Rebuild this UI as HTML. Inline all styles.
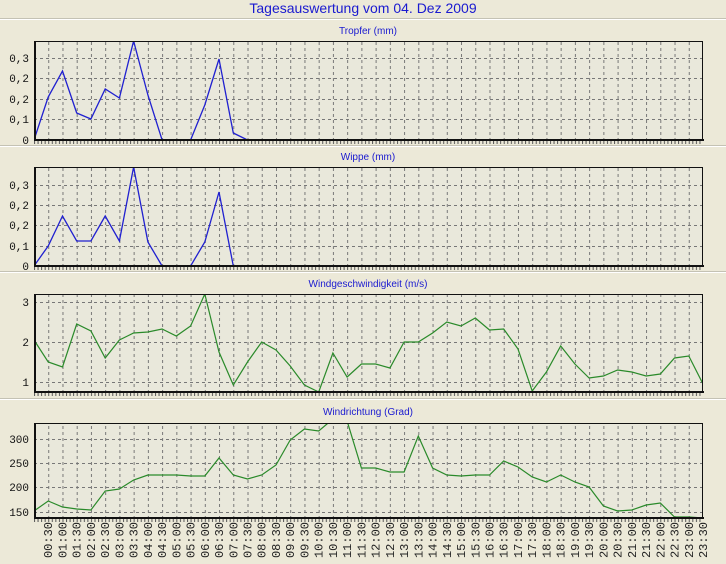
<!DOCTYPE html>
<html><head><meta charset="utf-8"><style>
html,body{margin:0;padding:0;background:#ECE9D8;}
svg{display:block;}
.t{font-family:"Liberation Sans",sans-serif;fill:#1a1ad0;}
.yl{font-family:"Liberation Mono",monospace;font-size:11px;fill:#111;text-anchor:end;}
.xl{font-family:"Liberation Mono",monospace;font-size:12px;fill:#222;text-anchor:end;}
</style></head><body>
<svg width="726" height="564" viewBox="0 0 726 564" xmlns="http://www.w3.org/2000/svg">
<defs>
<pattern id="vg" x="34" y="0" width="14.234" height="564" patternUnits="userSpaceOnUse">
<line x1="0.5" y1="0" x2="0.5" y2="564" stroke="#777" stroke-dasharray="3,3"/>
</pattern>
<pattern id="mt" x="34" y="0" width="3.5585" height="564" patternUnits="userSpaceOnUse">
<line x1="0.5" y1="0" x2="0.5" y2="564" stroke="#555"/>
</pattern>
<clipPath id="c1"><rect x="34" y="41" width="669" height="99"/></clipPath>
<clipPath id="c2"><rect x="34" y="167" width="669" height="99"/></clipPath>
<clipPath id="c3"><rect x="34" y="294" width="669" height="98"/></clipPath>
<clipPath id="c4"><rect x="34" y="423" width="669" height="95"/></clipPath>
</defs>
<text class="t" x="363" y="13" font-size="14" text-anchor="middle">Tagesauswertung vom 04. Dez 2009</text>
<g stroke="#c4c2b4"><line x1="0" y1="18.5" x2="726" y2="18.5"/><line x1="0" y1="145.5" x2="726" y2="145.5"/><line x1="0" y1="271.5" x2="726" y2="271.5"/><line x1="0" y1="398.5" x2="726" y2="398.5"/></g>
<g stroke="#fff"><line x1="0" y1="19.5" x2="726" y2="19.5"/><line x1="0" y1="146.5" x2="726" y2="146.5"/><line x1="0" y1="272.5" x2="726" y2="272.5"/><line x1="0" y1="399.5" x2="726" y2="399.5"/></g>

<text class="t" x="368" y="34" font-size="10" text-anchor="middle">Tropfer (mm)</text>
<text class="t" x="368" y="160" font-size="10" text-anchor="middle">Wippe (mm)</text>
<text class="t" x="368" y="287" font-size="10" text-anchor="middle">Windgeschwindigkeit (m/s)</text>
<text class="t" x="368" y="415" font-size="10" text-anchor="middle">Windrichtung (Grad)</text>

<g fill="#E9E8DB">
<rect x="34" y="41" width="669" height="99"/><rect x="34" y="167" width="669" height="99"/>
<rect x="34" y="294" width="669" height="98"/><rect x="34" y="423" width="669" height="95"/>
</g>
<g fill="url(#vg)">
<rect x="40" y="41" width="663" height="99"/><rect x="40" y="167" width="663" height="99"/>
<rect x="40" y="294" width="663" height="98"/><rect x="40" y="423" width="663" height="95"/>
</g>
<g fill="url(#mt)">
<rect x="34" y="141" width="669" height="3"/><rect x="34" y="267" width="669" height="3"/>
<rect x="34" y="393" width="669" height="3"/><rect x="34" y="519" width="669" height="3"/>
</g>
<g stroke="#777" stroke-dasharray="3,3">
<line x1="34" y1="119.5" x2="703" y2="119.5"/><line x1="34" y1="99.5" x2="703" y2="99.5"/><line x1="34" y1="78.5" x2="703" y2="78.5"/><line x1="34" y1="58.5" x2="703" y2="58.5"/>
<line x1="34" y1="246.5" x2="703" y2="246.5"/><line x1="34" y1="225.5" x2="703" y2="225.5"/><line x1="34" y1="205.5" x2="703" y2="205.5"/><line x1="34" y1="185.5" x2="703" y2="185.5"/>
<line x1="34" y1="302.5" x2="703" y2="302.5"/><line x1="34" y1="342.5" x2="703" y2="342.5"/><line x1="34" y1="382.5" x2="703" y2="382.5"/>
<line x1="34" y1="439.5" x2="703" y2="439.5"/><line x1="34" y1="463.5" x2="703" y2="463.5"/><line x1="34" y1="487.5" x2="703" y2="487.5"/><line x1="34" y1="512.5" x2="703" y2="512.5"/>
</g>
<text class="yl" x="29" y="144">0</text><text class="yl" x="29" y="123">0,1</text><text class="yl" x="29" y="103">0,2</text><text class="yl" x="29" y="82">0,2</text><text class="yl" x="29" y="62">0,3</text>
<text class="yl" x="29" y="270">0</text><text class="yl" x="29" y="250">0,1</text><text class="yl" x="29" y="229">0,2</text><text class="yl" x="29" y="209">0,2</text><text class="yl" x="29" y="189">0,3</text>
<text class="yl" x="29" y="306">3</text><text class="yl" x="29" y="346">2</text><text class="yl" x="29" y="386">1</text>
<text class="yl" x="29" y="443">300</text><text class="yl" x="29" y="467">250</text><text class="yl" x="29" y="491">200</text><text class="yl" x="29" y="516">150</text>

<polyline clip-path="url(#c1)" fill="none" stroke="#2020d0" stroke-width="1.3" points="34,140 48.2,97 62.5,71 76.7,113 90.9,119 105.2,89 119.4,98 133.6,41 147.9,95 162.1,140 176.3,140 190.6,140 204.8,105 219,59 233.3,133 247.5,140"/>
<polyline clip-path="url(#c2)" fill="none" stroke="#2020d0" stroke-width="1.3" points="34,266 48.2,246 62.5,216 76.7,241 90.9,241 105.2,216 119.4,241 133.6,167 147.9,242 162.1,266 176.3,266 190.6,266 204.8,242 219,192 233.3,266"/>
<polyline clip-path="url(#c3)" fill="none" stroke="#2a8a2a" stroke-width="1.2" points="34,340 48.2,362 62.5,367 76.7,324 90.9,331 105.2,358 119.4,340 133.6,333 147.9,332 162.1,329 176.3,336 190.6,326 204.8,294 219,352 233.3,385 247.5,362 261.7,342 276,350 290.2,366 304.4,385 318.7,392 332.9,353 347.1,377 361.4,364 375.6,364 389.9,368 404.1,342 418.3,342 432.6,333 446.8,322 461,326 475.3,318 489.5,330 503.7,329 518,349 532.2,391 546.4,372 560.7,346 574.9,364 589.1,378 603.4,376 617.6,370 631.8,372 646.1,376 660.3,374 674.5,358 688.8,356 703,384"/>
<polyline clip-path="url(#c4)" fill="none" stroke="#2a8a2a" stroke-width="1.2" points="34,511 48.2,501 62.5,507 76.7,509 90.9,510 105.2,491 119.4,489 133.6,480 147.9,475 162.1,475 176.3,475 190.6,476 204.8,476 219,458 233.3,475 247.5,479 261.7,475 276,465 290.2,440 304.4,429 318.7,431 332.9,419 347.1,421 361.4,468 375.6,468 389.9,472 404.1,472 418.3,436 432.6,468 446.8,475 461,476 475.3,475 489.5,475 503.7,461 518,467 532.2,477 546.4,482 560.7,475 574.9,482 589.1,487 603.4,506 617.6,511 631.8,510 646.1,505 660.3,503 674.5,517 688.8,517 703,518"/>

<g fill="none" stroke="#111">
<rect x="34.5" y="41.5" width="668" height="98"/><rect x="34.5" y="167.5" width="668" height="98"/>
<rect x="34.5" y="294.5" width="668" height="97"/><rect x="34.5" y="423.5" width="668" height="94"/>
</g>
<g stroke="#111" stroke-width="2">
<line x1="34" y1="140" x2="704" y2="140"/><line x1="35" y1="41" x2="35" y2="141"/>
<line x1="34" y1="266" x2="704" y2="266"/><line x1="35" y1="167" x2="35" y2="267"/>
<line x1="34" y1="392" x2="704" y2="392"/><line x1="35" y1="294" x2="35" y2="393"/>
<line x1="34" y1="518" x2="704" y2="518"/><line x1="35" y1="423" x2="35" y2="519"/>
</g>

<g class="xl">
<text transform="translate(52.2,522) rotate(-90)">00:30</text>
<text transform="translate(66.5,522) rotate(-90)">01:00</text>
<text transform="translate(80.7,522) rotate(-90)">01:30</text>
<text transform="translate(94.9,522) rotate(-90)">02:00</text>
<text transform="translate(109.2,522) rotate(-90)">02:30</text>
<text transform="translate(123.4,522) rotate(-90)">03:00</text>
<text transform="translate(137.6,522) rotate(-90)">03:30</text>
<text transform="translate(151.9,522) rotate(-90)">04:00</text>
<text transform="translate(166.1,522) rotate(-90)">04:30</text>
<text transform="translate(180.3,522) rotate(-90)">05:00</text>
<text transform="translate(194.6,522) rotate(-90)">05:30</text>
<text transform="translate(208.8,522) rotate(-90)">06:00</text>
<text transform="translate(223,522) rotate(-90)">06:30</text>
<text transform="translate(237.3,522) rotate(-90)">07:00</text>
<text transform="translate(251.5,522) rotate(-90)">07:30</text>
<text transform="translate(265.7,522) rotate(-90)">08:00</text>
<text transform="translate(280,522) rotate(-90)">08:30</text>
<text transform="translate(294.2,522) rotate(-90)">09:00</text>
<text transform="translate(308.4,522) rotate(-90)">09:30</text>
<text transform="translate(322.7,522) rotate(-90)">10:00</text>
<text transform="translate(336.9,522) rotate(-90)">10:30</text>
<text transform="translate(351.1,522) rotate(-90)">11:00</text>
<text transform="translate(365.4,522) rotate(-90)">11:30</text>
<text transform="translate(379.6,522) rotate(-90)">12:00</text>
<text transform="translate(393.9,522) rotate(-90)">12:30</text>
<text transform="translate(408.1,522) rotate(-90)">13:00</text>
<text transform="translate(422.3,522) rotate(-90)">13:30</text>
<text transform="translate(436.6,522) rotate(-90)">14:00</text>
<text transform="translate(450.8,522) rotate(-90)">14:30</text>
<text transform="translate(465,522) rotate(-90)">15:00</text>
<text transform="translate(479.3,522) rotate(-90)">15:30</text>
<text transform="translate(493.5,522) rotate(-90)">16:00</text>
<text transform="translate(507.7,522) rotate(-90)">16:30</text>
<text transform="translate(522,522) rotate(-90)">17:00</text>
<text transform="translate(536.2,522) rotate(-90)">17:30</text>
<text transform="translate(550.4,522) rotate(-90)">18:00</text>
<text transform="translate(564.7,522) rotate(-90)">18:30</text>
<text transform="translate(578.9,522) rotate(-90)">19:00</text>
<text transform="translate(593.1,522) rotate(-90)">19:30</text>
<text transform="translate(607.4,522) rotate(-90)">20:00</text>
<text transform="translate(621.6,522) rotate(-90)">20:30</text>
<text transform="translate(635.8,522) rotate(-90)">21:00</text>
<text transform="translate(650.1,522) rotate(-90)">21:30</text>
<text transform="translate(664.3,522) rotate(-90)">22:00</text>
<text transform="translate(678.5,522) rotate(-90)">22:30</text>
<text transform="translate(692.8,522) rotate(-90)">23:00</text>
<text transform="translate(707,522) rotate(-90)">23:30</text>
</g>
</svg>
</body></html>
